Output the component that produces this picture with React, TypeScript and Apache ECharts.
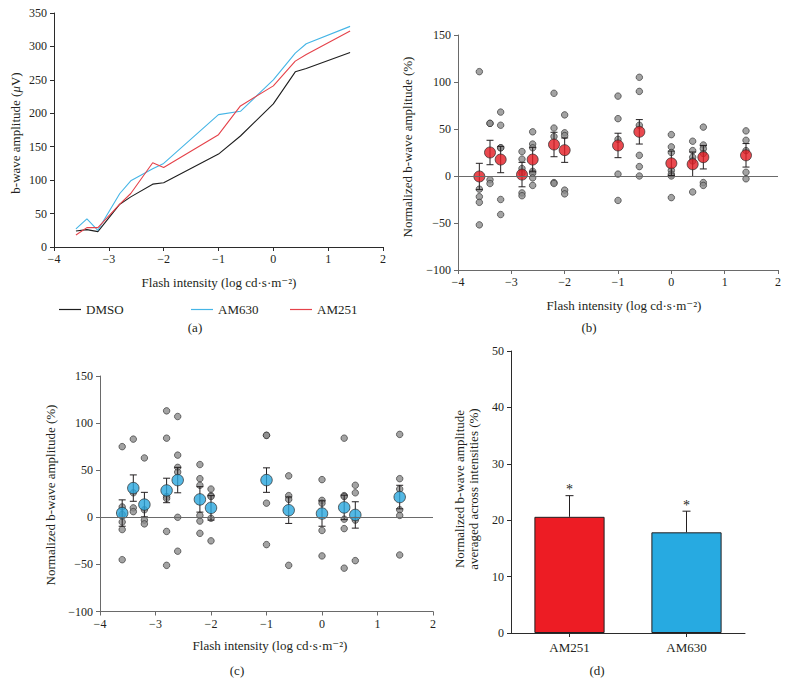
import React, { useEffect, useRef } from "react";
import * as echarts from "echarts";

const FONT = "'Liberation Serif', 'DejaVu Serif', serif";

const intensities = [-3.6, -3.4, -3.2, -2.8, -2.6, -2.2, -2.0, -1.0, -0.6, 0, 0.4, 0.6, 1.4];

// Panel (a) mean b-wave amplitudes (µV)
const dmso = [24, 26, 23, 64, 75, 94, 96, 139, 166, 214, 262, 267, 291];
const am630 = [27, 42, 25, 80, 99, 117, 125, 198, 203, 250, 290, 304, 330];
const am251 = [18, 29, 29, 64, 80, 126, 119, 168, 211, 241, 278, 288, 323];

// Panel (b) AM251 normalized amplitudes (%)
const pointsB = [
  [111, -14, -22, -28, -52],
  [56, 56, -4, -8],
  [68, 54, 30, 30, -25, -41],
  [26, 18, 8, 3, -18, -21],
  [47, 34, 30, 5, 3, -2, -10],
  [88, 51, 42, -7, -8],
  [65, 46, 43, -15, -19],
  [85, 61, 39, 2, -26],
  [105, 90, 54, 22, 10, 0],
  [44, 31, 25, 6, 2, 0, -23],
  [37, 27, 20, 16, -17],
  [52, 33, 29, 24, -7, -10],
  [48, 38, 27, 4, -3],
];
const meanB = [-0.5, 25, 17.5, 1.5, 17.5, 33.5, 27.5, 32.5, 47, 13.5, 12.5, 20, 22];
const semB = [14, 13, 14, 13, 13, 13, 13, 13, 13, 13, 13, 12.5, 12.5];

// Panel (c) AM630 normalized amplitudes (%)
const pointsC = [
  [75, 11, 3, -5, -13, -45],
  [83, 26, 10, 6],
  [63, 8, -3, -7],
  [113, 84, 22, 20, -15, -51],
  [107, 66, 53, 48, 0, -36],
  [56, 41, 34, 2, -4, -17],
  [30, 23, 22, -1, -25],
  [87, 87, 15, -29],
  [44, 23, 19, -51],
  [40, 18, 15, -14, -41],
  [84, 23, 22, -2, -12, -54],
  [34, 26, -3, -46],
  [88, 41, 30, 8, 2, -40],
];
const meanC = [4.5, 31, 13.5, 28.5, 39.5, 19, 10, 39.5, 7.5, 4, 10.5, 2.5, 21.5];
const semC = [14, 14, 13, 13, 13.5, 13.5, 13, 13, 14, 13.5, 13, 14, 12.5];

// Panel (d)
const drugs = ["AM251", "AM630"];
const avgNorm = [20.6, 17.85];
const avgSem = [3.75, 3.75];

const xTicks = { min: -4, max: 2, interval: 1 };

const fmtMinus = (v: number) => String(v).replace("-", "\u2212");

export default function App() {
  const ref = useRef<HTMLDivElement>(null);

  useEffect(() => {
    if (!ref.current) return;
    const chart = echarts.init(ref.current, undefined, { renderer: "svg" });

    const labelStyle = { fontFamily: FONT, fontSize: 12, color: "#231f20" };

    const valX = (gi: number, axisColor: string) => ({
      type: "value",
      gridIndex: gi,
      ...xTicks,
      axisLine: { show: true, onZero: false, lineStyle: { color: axisColor, width: 1 } },
      axisTick: { show: true, length: 4, lineStyle: { color: axisColor } },
      axisLabel: { ...labelStyle, margin: 6, formatter: fmtMinus },
      splitLine: { show: false },
    });
    const valY = (gi: number, min: number, max: number, interval: number, axisColor: string) => ({
      type: "value",
      gridIndex: gi,
      min,
      max,
      interval,
      axisLine: { show: true, onZero: false, lineStyle: { color: axisColor, width: 1 } },
      axisTick: { show: true, length: 4, lineStyle: { color: axisColor } },
      axisLabel: { ...labelStyle, margin: 7, formatter: fmtMinus },
      splitLine: { show: false },
    });

    const flatten = (pts: number[][]) => {
      const out: number[][] = [];
      pts.forEach((arr, i) => arr.forEach((v) => out.push([intensities[i], v])));
      return out;
    };

    const errRender = (both: boolean, cap: number) => (params: any, api: any) => {
      const x = api.value(0);
      const lo = api.value(1);
      const hi = api.value(2);
      const pLo = api.coord([x, lo]);
      const pHi = api.coord([x, hi]);
      const st = { stroke: "#231f20", lineWidth: 1 };
      const children: any[] = [
        { type: "line", shape: { x1: pLo[0], y1: pLo[1], x2: pHi[0], y2: pHi[1] }, style: st },
        { type: "line", shape: { x1: pHi[0] - cap, y1: pHi[1], x2: pHi[0] + cap, y2: pHi[1] }, style: st },
      ];
      if (both) {
        children.push({ type: "line", shape: { x1: pLo[0] - cap, y1: pLo[1], x2: pLo[0] + cap, y2: pLo[1] }, style: st });
      }
      return { type: "group", children };
    };

    const greyItem = { color: "#8c8c8c", borderColor: "#2b2b2b", borderWidth: 0.8 };
    const zeroLine = {
      silent: true,
      symbol: ["none", "none"],
      label: { show: false },
      lineStyle: { color: "#6a6a6a", width: 1, type: "solid" },
      data: [{ yAxis: 0 }],
    };

    const lineSeries = (name: string, vals: number[], color: string) => ({
      name,
      type: "line",
      xAxisIndex: 0,
      yAxisIndex: 0,
      color,
      symbol: "none",
      lineStyle: { color, width: 1.1 },
      data: intensities.map((x, i) => [x, vals[i]]),
    });

    const txt = (text: string, x: number, y: number, rot = 0, size = 13, extra: any = {}) => ({
      type: "text",
      x,
      y,
      rotation: rot,
      style: {
        text,
        fill: "#231f20",
        fontFamily: FONT,
        fontSize: size,
        align: "center",
        verticalAlign: "middle",
        ...extra,
      },
    });

    const flashTitle = "Flash intensity (log cd\u00b7s\u00b7m\u207b\u00b2)";

    const option: any = {
      animation: false,
      backgroundColor: "#ffffff",
      grid: [
        { left: 54, top: 13, width: 329, height: 234 },
        { left: 458, top: 35, width: 320, height: 235 },
        { left: 100, top: 376, width: 333, height: 235.5 },
        { left: 511, top: 351, width: 234, height: 282 },
      ],
      xAxis: [
        valX(0, "#2b2b2b"),
        valX(1, "#6a6a6a"),
        valX(2, "#6a6a6a"),
        {
          type: "category",
          gridIndex: 3,
          data: drugs,
          axisLine: { show: true, lineStyle: { color: "#2b2b2b" } },
          axisTick: { show: true, alignWithLabel: true, length: 4, lineStyle: { color: "#2b2b2b" } },
          axisLabel: { ...labelStyle, fontSize: 13, margin: 8 },
        },
      ],
      yAxis: [
        valY(0, 0, 350, 50, "#2b2b2b"),
        valY(1, -100, 150, 50, "#6a6a6a"),
        valY(2, -100, 150, 50, "#6a6a6a"),
        valY(3, 0, 50, 10, "#2b2b2b"),
      ],
      legend: [
        { data: ["DMSO"], left: 54, top: 298, icon: "rect", itemWidth: 22, itemHeight: 1.2, textStyle: { fontFamily: FONT, fontSize: 13, color: "#231f20" } },
        { data: ["AM630"], left: 186, top: 298, icon: "rect", itemWidth: 22, itemHeight: 1.2, textStyle: { fontFamily: FONT, fontSize: 13, color: "#231f20" } },
        { data: ["AM251"], left: 285, top: 298, icon: "rect", itemWidth: 22, itemHeight: 1.2, textStyle: { fontFamily: FONT, fontSize: 13, color: "#231f20" } },
      ],
      series: [
        lineSeries("DMSO", dmso, "#1e1e1e"),
        lineSeries("AM630", am630, "#45b5e6"),
        lineSeries("AM251", am251, "#e5424a"),
        // panel b
        {
          name: "b-points",
          type: "scatter",
          xAxisIndex: 1,
          yAxisIndex: 1,
          symbolSize: 6.5,
          itemStyle: greyItem,
          data: flatten(pointsB),
          markLine: zeroLine,
          z: 2,
        },
        {
          name: "b-err",
          type: "custom",
          xAxisIndex: 1,
          yAxisIndex: 1,
          renderItem: errRender(true, 3.5),
          data: intensities.map((x, i) => [x, meanB[i] - semB[i], meanB[i] + semB[i]]),
          z: 3,
        },
        {
          name: "b-mean",
          type: "scatter",
          xAxisIndex: 1,
          yAxisIndex: 1,
          symbolSize: 11,
          itemStyle: { color: "#e31b23", borderColor: "#2b2b2b", borderWidth: 0.9 },
          data: intensities.map((x, i) => [x, meanB[i]]),
          z: 4,
        },
        // panel c
        {
          name: "c-points",
          type: "scatter",
          xAxisIndex: 2,
          yAxisIndex: 2,
          symbolSize: 6.5,
          itemStyle: greyItem,
          data: flatten(pointsC),
          markLine: zeroLine,
          z: 2,
        },
        {
          name: "c-err",
          type: "custom",
          xAxisIndex: 2,
          yAxisIndex: 2,
          renderItem: errRender(true, 3.5),
          data: intensities.map((x, i) => [x, meanC[i] - semC[i], meanC[i] + semC[i]]),
          z: 3,
        },
        {
          name: "c-mean",
          type: "scatter",
          xAxisIndex: 2,
          yAxisIndex: 2,
          symbolSize: 11.5,
          itemStyle: { color: "#29a6dd", borderColor: "#2b2b2b", borderWidth: 0.9 },
          data: intensities.map((x, i) => [x, meanC[i]]),
          z: 4,
        },
        // panel d
        {
          name: "avg",
          type: "bar",
          xAxisIndex: 3,
          yAxisIndex: 3,
          barWidth: "60%",
          data: avgNorm.map((v, i) => ({
            value: v,
            itemStyle: { color: i === 0 ? "#ed1c24" : "#27aae1", borderColor: "#231f20", borderWidth: 1 },
          })),
          z: 2,
        },
        {
          name: "avg-err",
          type: "custom",
          xAxisIndex: 3,
          yAxisIndex: 3,
          renderItem: (params: any, api: any) => {
            const idx = api.value(0);
            const lo = api.value(1);
            const hi = api.value(2);
            const pLo = api.coord([idx, lo]);
            const pHi = api.coord([idx, hi]);
            const st = { stroke: "#231f20", lineWidth: 1 };
            return {
              type: "group",
              children: [
                { type: "line", shape: { x1: pLo[0], y1: pLo[1], x2: pHi[0], y2: pHi[1] }, style: st },
                { type: "line", shape: { x1: pHi[0] - 4, y1: pHi[1], x2: pHi[0] + 4, y2: pHi[1] }, style: st },
                {
                  type: "text",
                  x: pHi[0],
                  y: pHi[1] - 6,
                  style: { text: "*", fill: "#231f20", fontFamily: FONT, fontSize: 14, align: "center", verticalAlign: "middle" },
                },
              ],
            };
          },
          data: avgNorm.map((v, i) => [i, v, v + avgSem[i]]),
          z: 3,
        },
      ],
      graphic: [
        txt("{n|b-wave amplitude (}{i|\u03bc}{n|V)}", 15, 133, Math.PI / 2, 13, {
          rich: {
            n: { fontFamily: FONT, fontSize: 13, fill: "#231f20" },
            i: { fontFamily: FONT, fontSize: 13, fontStyle: "italic", fill: "#231f20" },
          },
        }),
        txt(flashTitle, 219, 282),
        txt("(a)", 195, 327),
        txt("Normalized b-wave amplitude (%)", 407, 147, Math.PI / 2),
        txt(flashTitle, 624, 305),
        txt("(b)", 589, 327),
        txt("Normalized b-wave amplitude (%)", 50, 495, Math.PI / 2),
        txt(flashTitle, 270, 645),
        txt("(c)", 237, 670),
        txt("Normalized b-wave amplitude", 459, 489, Math.PI / 2),
        txt("averaged across intensities (%)", 473.5, 489, Math.PI / 2),
        txt("(d)", 597, 670),
      ],
    };

    chart.setOption(option);
    return () => chart.dispose();
  }, []);

  return (
    <div
      ref={ref}
      style={{ position: "absolute", left: 0, top: 0, width: 790, height: 696, background: "#fff" }}
    />
  );
}
